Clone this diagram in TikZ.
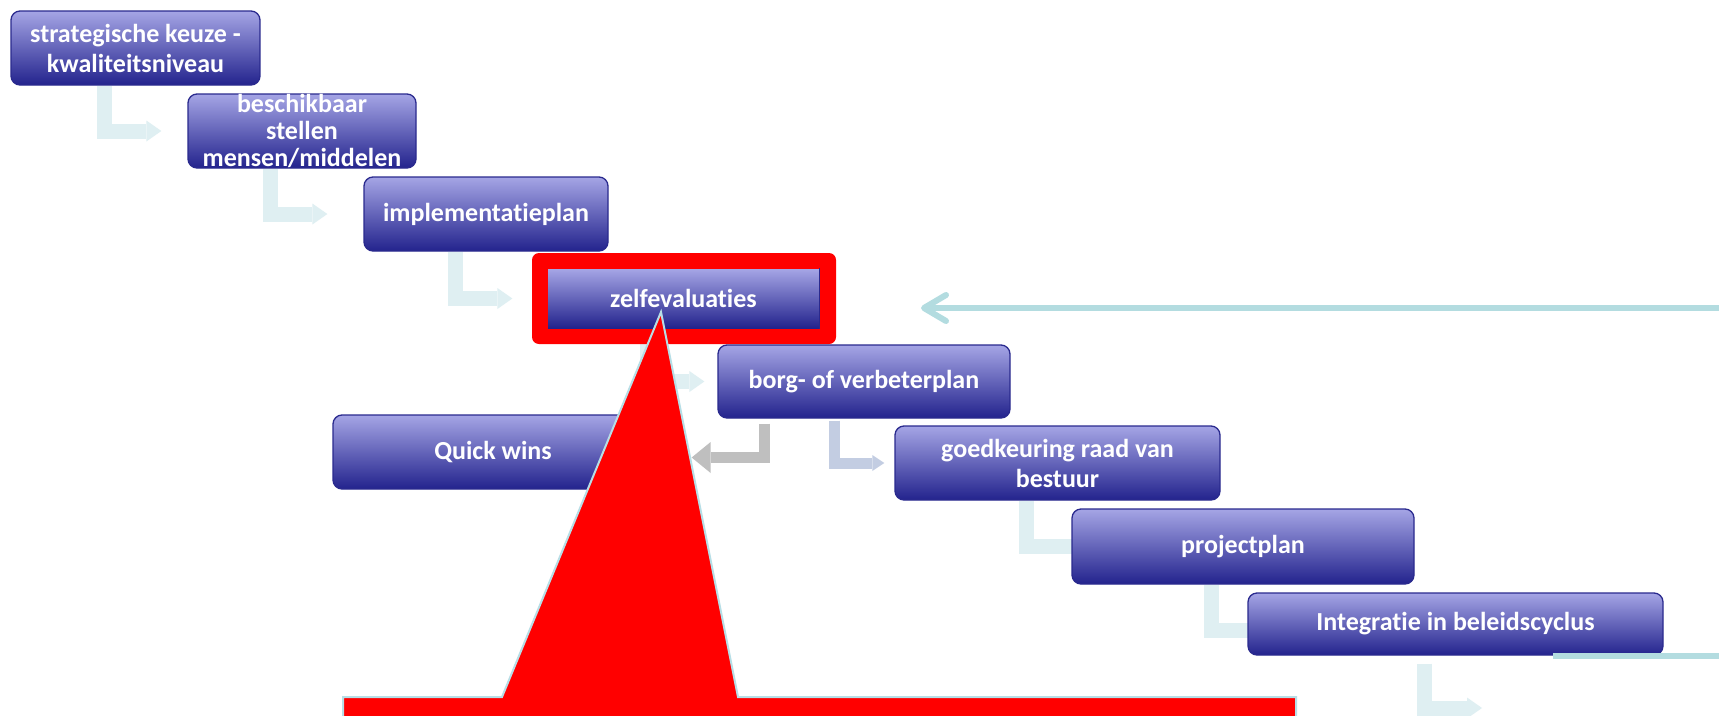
\documentclass[tikz,border=0pt]{standalone}
\usepackage{fontspec}
\setmainfont{Carlito}[RawFeature={-liga;-clig;-dlig}]
\usetikzlibrary{arrows.meta}

\definecolor{boxtop}{HTML}{A5A5E5}
\definecolor{boxmid}{HTML}{8585D2}
\definecolor{boxbot}{HTML}{23238D}
\definecolor{boxline}{HTML}{2A2A8E}
\definecolor{flowc}{HTML}{DFEFF2}
\definecolor{flowblue}{HTML}{C3CDE2}
\definecolor{flowgray}{HTML}{BFBFBF}
\definecolor{loopc}{HTML}{B3DCE0}
\definecolor{alertred}{HTML}{FF0000}
\definecolor{alertedge}{HTML}{B7DEE6}

\pgfdeclarelayer{base}
\pgfdeclarelayer{behind}
\pgfsetlayers{base,behind,main}

\tikzset{
  stepbox/.style={rounded corners=9pt, draw=boxline, line width=1.3pt,
    top color=boxtop, middle color=boxmid, bottom color=boxbot,
    inner sep=0pt, shading angle=0},
  boxtext/.style={text=white, inner sep=0pt, align=center,
    font=\fontsize{26}{30}\selectfont\bfseries},
  flow/.style={line width=15pt, draw=flowc,
    -{Triangle[length=15pt,width=21pt,line width=0pt]}},
  flowsoft/.style={line width=11pt, draw=flowblue,
    -{Triangle[length=12pt,width=16pt,line width=0pt]}},
  flowback/.style={line width=11pt, draw=flowgray,
    -{Triangle[length=19pt,width=31pt,line width=0pt]}},
  loopline/.style={line width=6pt, draw=loopc, line cap=round, line join=round},
}

\begin{document}
\begin{tikzpicture}[x=1pt,y=-1pt]
\useasboundingbox (0,0) rectangle (1719,715);
\clip (0,0) rectangle (1719,715);
\begin{pgfonlayer}{base}
  \fill[white] (0,0) rectangle (1719,715);
\end{pgfonlayer}

% process steps
\node[stepbox, minimum width=249pt, minimum height=74pt] (b1) at (135.5,48) {};
\node[boxtext] (b1t) at (b1.center) {strategische keuze -\\kwaliteitsniveau};

\node[stepbox, minimum width=228pt, minimum height=74pt] (b2) at (302,131) {};
\node[boxtext, font=\fontsize{26}{27}\selectfont\bfseries] (b2t) at (b2.center) {beschikbaar\\stellen\\mensen/middelen};

\node[stepbox, minimum width=244pt, minimum height=74pt] (b3) at (486,214) {};
\node[boxtext] (b3t) at (b3.center) {implementatieplan};

% highlighted step inside a red frame
\node[fill=alertred, rounded corners=7pt, minimum width=304pt, minimum height=91pt, inner sep=0pt] (frame) at (684,298.5) {};
\node[stepbox, rounded corners=0pt, draw=none, minimum width=271pt, minimum height=59pt] (zelf) at (683.5,298.5) {};
\draw[boxline, line width=1.5pt] (zelf.north east) -- (zelf.south east);
\node[boxtext] (zelft) at (zelf.center) {zelfevaluaties};

\node[stepbox, minimum width=292pt, minimum height=73pt] (borg) at (864,381.5) {};
\node[boxtext] (borgt) at (borg.center) {borg- of verbeterplan};

\node[stepbox, minimum width=320pt, minimum height=74pt] (quick) at (493,452) {};
\node[boxtext] (quickt) at (quick.center) {Quick wins};

\node[stepbox, minimum width=325pt, minimum height=74pt] (goed) at (1057.5,463) {};
\node[boxtext] (goedt) at (goed.center) {goedkeuring raad van\\bestuur};

\node[stepbox, minimum width=342pt, minimum height=75pt] (proj) at (1243,546.5) {};
\node[boxtext] (projt) at (proj.center) {projectplan};

\node[stepbox, minimum width=415pt, minimum height=62pt] (integ) at (1455.5,624) {};
\node[boxtext] (integt) at (integ.center) {Integratie in beleidscyclus};

% free ends
\coordinate (nextstep) at (1482,708);
\coordinate (loopstart) at (1730,308);
\coordinate (loopend) at (921,308);
\coordinate (tailA) at (1553,656);
\coordinate (tailB) at (1730,656);

% bent block arrows between the steps
\begin{pgfonlayer}{behind}
  \draw[flow, shorten >=26pt] ([xshift=94pt]b1.south west) |- (b2.west);
  \draw[flow, shorten >=36pt] ([xshift=83.5pt]b2.south west) |- (b3.west);
  \draw[flow, shorten >=35pt] ([xshift=92.5pt]b3.south west) |- (zelf.west);
  \draw[flow, shorten >=13pt] ([xshift=100pt]zelf.south west) |- (borg.west);
  \draw[flowsoft, shorten <=2pt, shorten >=10pt] ([xshift=117.5pt]borg.south west) |- (goed.west);
  \draw[flowback, shorten <=5pt, shorten >=38pt] ([xshift=47pt]borg.south west) |- ([yshift=-5.5pt]quick.east);
  \draw[flow, shorten >=-25pt] ([xshift=132pt]goed.south west) |- (proj.west);
  \draw[flow, shorten >=-25pt] ([xshift=140.5pt]proj.south west) |- ([yshift=-6.5pt]integ.west);
  \draw[flow, shorten <=8pt] ([xshift=177pt]integ.south west) |- (nextstep);
\end{pgfonlayer}

% feedback line back to the self-evaluation
\draw[loopline, -{Straight Barb[length=22pt,width=26pt,line cap=round,line join=round]}] (loopstart) -- (loopend);
\draw[loopline, line cap=butt] (tailA) -- (tailB);

% red callout pointing at the self-evaluation
\filldraw[fill=alertred, draw=alertedge, line width=2pt, line join=miter]
  (343,740) -- (343,697) -- (502,697) -- (661,312) -- (738,697)
  -- (1296,697) -- (1296,740) -- cycle;
\end{tikzpicture}
\end{document}
